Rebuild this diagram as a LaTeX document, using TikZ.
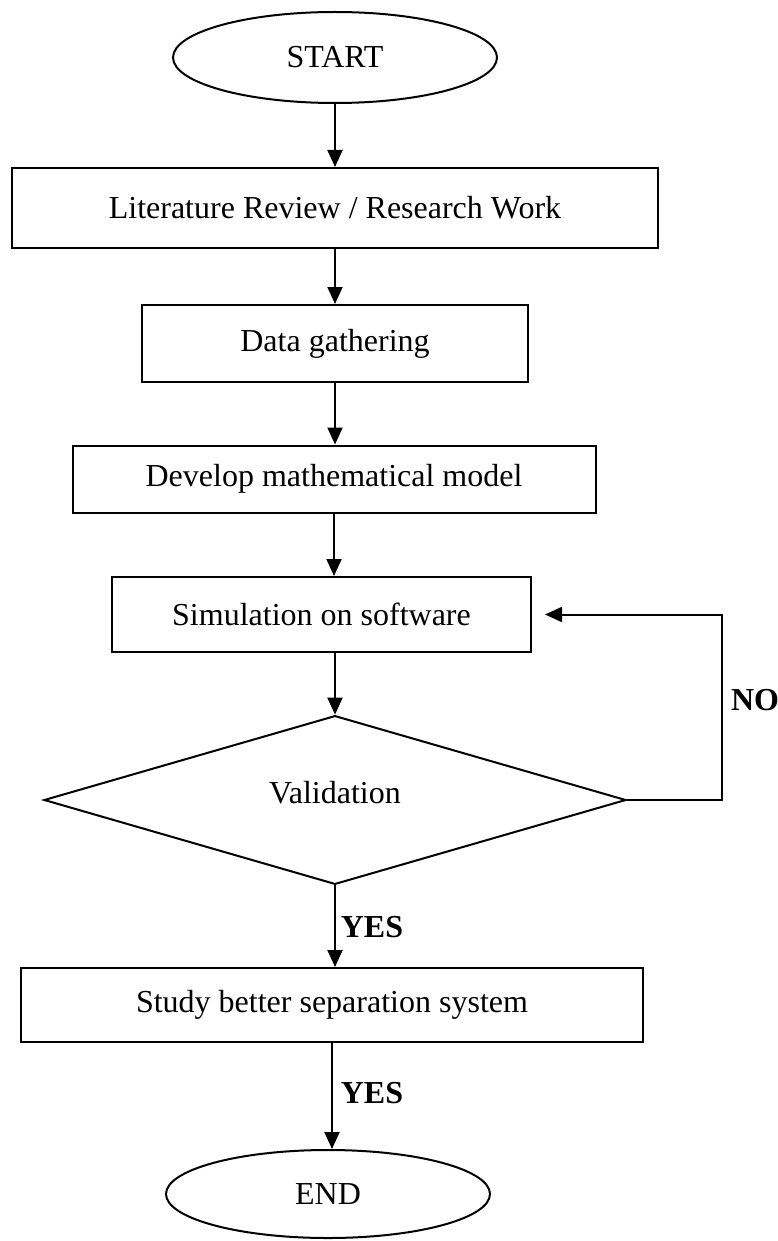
\documentclass[tikz,border=0pt]{standalone}
\usepackage{fontspec}
\setmainfont{Liberation Serif}
\usetikzlibrary{shapes.geometric,arrows.meta}
\begin{document}
\begin{tikzpicture}[x=1pt,y=-1pt,
  every node/.style={font=\fontsize{32}{38}\selectfont},
  term/.style={draw, ellipse, line width=2pt, inner sep=0pt, minimum width=324pt, minimum height=91pt},
  proc/.style={draw, rectangle, line width=2pt, inner sep=0pt},
  dec/.style={draw, diamond, line width=2pt, inner sep=0pt, minimum width=582pt, minimum height=166pt},
  arr/.style={line width=2pt, -{Triangle[length=17pt,width=15pt]}},
  lbl/.style={font=\fontsize{32}{38}\selectfont\bfseries}
]
\useasboundingbox (0,0) rectangle (778,1241);
\node[term] (st) at (335,57.5) {START};
\node[proc, minimum width=646pt, minimum height=80pt] (lit) at (335,208) {Literature Review / Research Work};
\node[proc, minimum width=386pt, minimum height=77pt] (data) at (335,343.5) {Data gathering};
\node[proc, minimum width=523pt, minimum height=67pt] (dev) at (334,479) {Develop mathematical model};
\node[proc, minimum width=419pt, minimum height=75pt] (sim) at (321.5,614.5) {Simulation on software};
\node[dec] (val) at (335,800) {\raisebox{15pt}{Validation}};
\node[proc, minimum width=622pt, minimum height=74pt] (study) at (332,1005) {Study better separation system};
\node[term, minimum height=88pt] (fin) at (328,1194) {END};

\draw[arr] (st.south) -- (st.south |- lit.north);
\draw[arr] (lit.south) -- (lit.south |- data.north);
\draw[arr] (data.south) -- (data.south |- dev.north);
\draw[arr] (dev.south) -- (dev.south |- sim.north);
\draw[arr] (val.north |- sim.south) -- (val.north);
\draw[arr] (val.south) -- (val.south |- study.north);
\draw[arr] (study.south) -- (study.south |- fin.north);
\draw[arr] (val.east) -- ++(95,0) |- ([xshift=13pt]sim.east);

\node[lbl] (yes1) at (372,927) {YES};
\node[lbl] (yes2) at (372,1093) {YES};
\node[lbl] (no) at (755,700) {NO};
\end{tikzpicture}
\end{document}
